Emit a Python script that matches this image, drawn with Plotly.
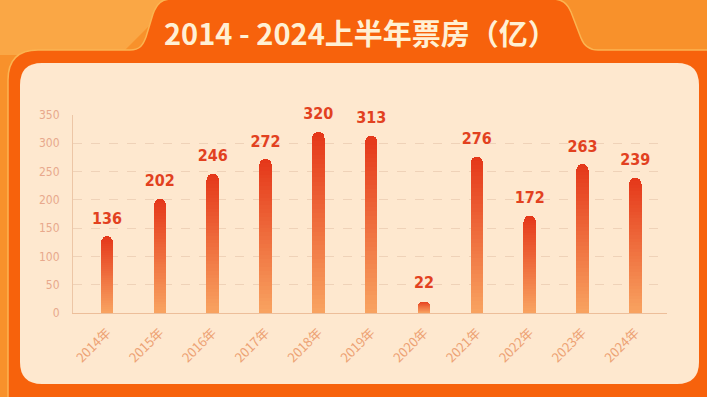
import plotly.graph_objects as go

# ---- data ----
years = ["2014年", "2015年", "2016年", "2017年", "2018年", "2019年",
         "2020年", "2021年", "2022年", "2023年", "2024年"]
box_office = [136, 202, 246, 272, 320, 313, 22, 276, 172, 263, 239]
y_ticks = [0, 50, 100, 150, 200, 250, 300, 350]
title_text = "2014 - 2024上半年票房（亿）"

W, H = 707, 397

def px(x, y):
    return f"{x / W:.5f},{1 - y / H:.5f}"

def rrect(x0, y0, x1, y1, r):
    return (f"M {px(x0, y0 + r)} Q {px(x0, y0)} {px(x0 + r, y0)} "
            f"L {px(x1 - r, y0)} Q {px(x1, y0)} {px(x1, y0 + r)} "
            f"L {px(x1, y1 - r)} Q {px(x1, y1)} {px(x1 - r, y1)} "
            f"L {px(x0 + r, y1)} Q {px(x0, y1)} {px(x0, y1 - r)} Z")

xs = list(range(len(years)))

fig = go.Figure()

# gradient bars: each bar split into stacked slices, coloured top (red) to bottom (light orange)
N = 40
top_c = (229, 56, 26)
bot_c = (248, 162, 96)
for k in range(N):
    t = k / (N - 1)  # 0 bottom -> 1 top
    c = tuple(round(bot_c[i] + (top_c[i] - bot_c[i]) * t) for i in range(3))
    fig.add_trace(go.Bar(
        x=xs, y=[v / N for v in box_office],
        marker=dict(color=f"rgb{c}", line=dict(width=0)),
        width=0.235, hoverinfo="skip", showlegend=False,
    ))

# value labels
fig.add_trace(go.Scatter(
    x=xs, y=box_office, mode="markers+text",
    marker=dict(size=12, opacity=0),
    text=[str(v) for v in box_office], textposition="top center",
    textfont=dict(family="DejaVu Sans Condensed, DejaVu Sans", size=16, color="#E2411F", weight="bold"),
    cliponaxis=False, hoverinfo="skip", showlegend=False,
))

shapes = []
# lighter diagonal area in the top-left background
shapes.append(dict(type="path", xref="paper", yref="paper", layer="below",
                   path=f"M {px(0, 0)} L {px(175, 0)} L {px(120, 55)} L {px(0, 55)} Z",
                   fillcolor="#FAA745", line=dict(width=0)))
# frame with title tab
frame = (f"M {px(8, 460)} L {px(8, 80)} Q {px(8, 50)} {px(38, 50)} "
         f"L {px(130, 50)} C {px(140, 50)} {px(143, 45)} {px(146, 37)} "
         f"L {px(153, 14)} C {px(157, 3)} {px(162, -1)} {px(172, -1)} "
         f"L {px(552, -1)} C {px(562, -1)} {px(567, 3)} {px(571, 12)} "
         f"L {px(581, 38)} C {px(584, 46)} {px(589, 50)} {px(598, 50)} "
         f"L {px(760, 50)} L {px(760, 460)} Z")
shapes.append(dict(type="path", xref="paper", yref="paper", layer="below",
                   path=frame, fillcolor="#F7620C",
                   line=dict(color="#FBB451", width=1.5)))
# inner cream panel
shapes.append(dict(type="path", xref="paper", yref="paper", layer="below",
                   path=rrect(20, 63, 699, 384, 22),
                   fillcolor="#FEE8CF", line=dict(width=0)))

fig.update_layout(
    width=W, height=H,
    margin=dict(l=0, r=0, t=0, b=0, pad=0, autoexpand=False),
    paper_bgcolor="#F8912B",
    plot_bgcolor="rgba(0,0,0,0)",
    barmode="stack", bargap=0, barcornerradius="50%",
    shapes=shapes,
    showlegend=False,
    hovermode=False,
    annotations=[dict(
        text=title_text, x=360 / W, y=1 - 32 / H, xref="paper", yref="paper",
        showarrow=False, xanchor="center", yanchor="middle",
        font=dict(family="Noto Sans CJK SC", size=29, color="#FFF0D4", weight="bold"),
    )],
    xaxis=dict(
        domain=[73 / W, 667 / W], range=[-0.644, 10.6], automargin=False,
        tickmode="array", tickvals=xs, ticktext=years, tickangle=-45,
        tickfont=dict(family="Noto Sans CJK SC", size=13, color="#EDA274"),
        showgrid=False, zeroline=False, showline=True, linecolor="#EDBE9A", linewidth=1,
        ticks="", fixedrange=True, ticklabelstandoff=6,
    ),
    yaxis=dict(
        domain=[1 - 313 / H, 1 - 115 / H], range=[0, 350], automargin=False,
        tickmode="array", tickvals=y_ticks, ticktext=[str(v) for v in y_ticks],
        tickfont=dict(family="DejaVu Sans Condensed, DejaVu Sans", size=12, color="#E8A88C"),
        showgrid=True, gridcolor="#EFD2B8", griddash="dash", gridwidth=1,
        zeroline=False, showline=True, linecolor="#EDC6A6", linewidth=1,
        ticks="", ticklabelstandoff=10, fixedrange=True,
    ),
)

fig.write_html("out.html", config={"displayModeBar": False, "staticPlot": True},
               post_script="document.body.style.margin='0';document.body.style.overflow='hidden';")
